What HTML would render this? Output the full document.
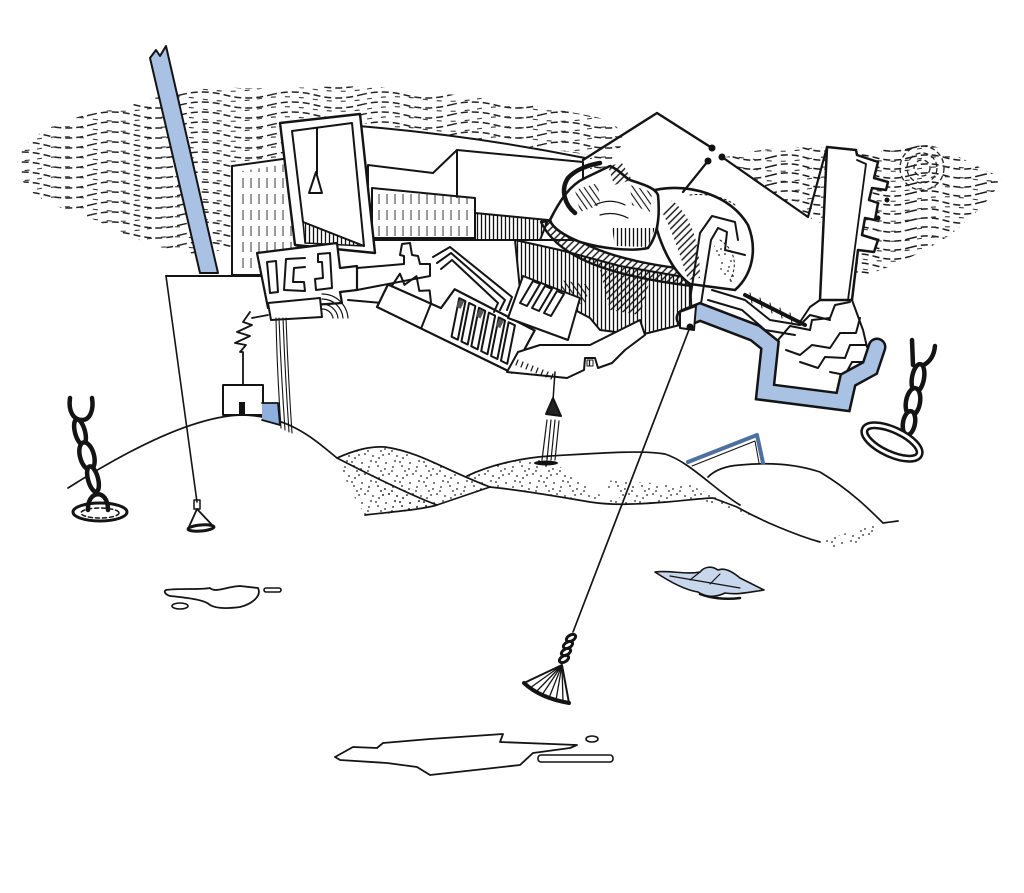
<!DOCTYPE html>
<html><head><meta charset="utf-8">
<style>html,body{margin:0;padding:0;background:#fff}svg{display:block}</style>
</head><body>
<svg width="1024" height="893" viewBox="0 0 1024 893" xmlns="http://www.w3.org/2000/svg">
<defs>
<pattern id="cloud" width="90" height="10" patternUnits="userSpaceOnUse">
 <path d="M0,5 C15,1 30,1 45,5 S75,9 90,5" fill="none" stroke="#222" stroke-width="1.5" stroke-dasharray="7 4"/>
</pattern>
<pattern id="cloudb" width="110" height="10" patternUnits="userSpaceOnUse" x="37" y="4">
 <path d="M0,5 C18,2 36,2 55,5 S92,8 110,5" fill="none" stroke="#333" stroke-width="1.1" stroke-dasharray="5 9"/>
</pattern>
<pattern id="cloud2" width="70" height="9" patternUnits="userSpaceOnUse">
 <path d="M0,4.5 C12,1 23,1 35,4.5 S58,8 70,4.5" fill="none" stroke="#1a1a1a" stroke-width="1.5" stroke-dasharray="7 4"/>
</pattern>
<pattern id="vh" width="4" height="10" patternUnits="userSpaceOnUse"><line x1="1.5" y1="0" x2="1.5" y2="10" stroke="#111" stroke-width="1.3"/></pattern>
<pattern id="vd" width="8" height="16" patternUnits="userSpaceOnUse"><line x1="3" y1="2" x2="3" y2="12" stroke="#333" stroke-width="1"/></pattern>
<pattern id="dh" width="5" height="5" patternUnits="userSpaceOnUse" patternTransform="rotate(45)"><line x1="1" y1="0" x2="1" y2="5" stroke="#111" stroke-width="1.4"/></pattern>
<pattern id="dh2" width="5" height="5" patternUnits="userSpaceOnUse" patternTransform="rotate(-35)"><line x1="1" y1="0" x2="1" y2="5" stroke="#111" stroke-width="1.1"/></pattern>
<pattern id="dots" width="24" height="20" patternUnits="userSpaceOnUse">
 <g fill="#222"><circle cx="2" cy="3" r="0.9"/><circle cx="9" cy="7" r="0.9"/><circle cx="16" cy="2" r="0.9"/><circle cx="21" cy="11" r="0.9"/><circle cx="5" cy="14" r="0.9"/><circle cx="13" cy="16" r="0.9"/><circle cx="19" cy="18" r="0.9"/><circle cx="8" cy="11" r="0.9"/><circle cx="1" cy="9" r="0.9"/><circle cx="18" cy="6" r="0.9"/><circle cx="11" cy="1" r="0.9"/><circle cx="23" cy="15" r="0.9"/></g>
</pattern>
</defs>
<rect width="1024" height="893" fill="#fff"/>

<!-- clouds -->
<path d="M18,160 C25,135 60,118 110,110 C150,100 190,85 240,88 C300,90 350,82 410,90 C470,96 540,105 600,118 C615,122 625,132 622,145 L600,175 L300,215 C260,235 230,250 200,255 C160,250 130,238 100,222 C70,210 45,205 30,190 C20,180 16,170 18,160 Z" fill="url(#cloud)"/>
<path d="M18,160 C25,135 60,118 110,110 C150,100 190,85 240,88 C300,90 350,82 410,90 C470,96 540,105 600,118 C615,122 625,132 622,145 L600,175 L300,215 C260,235 230,250 200,255 C160,250 130,238 100,222 C70,210 45,205 30,190 C20,180 16,170 18,160 Z" fill="url(#cloudb)"/>
<path d="M722,158 C750,150 790,145 827,148 L880,152 C895,142 920,140 945,150 C965,160 985,170 1002,178 C995,195 975,215 950,235 C920,255 880,272 845,282 L835,230 L808,217 Z" fill="url(#cloud2)"/>
<path d="M722,158 C750,150 790,145 827,148 L880,152 C895,142 920,140 945,150 C965,160 985,170 1002,178 C995,195 975,215 950,235 C920,255 880,272 845,282 L835,230 L808,217 Z" fill="url(#cloudb)"/>
<g fill="none" stroke="#222" stroke-width="1.3" stroke-dasharray="5 3">
<circle cx="922" cy="168" r="8"/><circle cx="922" cy="168" r="15"/><circle cx="922" cy="168" r="22"/>
</g>

<g fill="none" stroke="#141414" stroke-width="2" stroke-linejoin="round" stroke-linecap="round">

<!-- pole -->
<polygon points="150,58 156,50 160,56 166,46 218,273 200,273" fill="#a9c1e2"/>

<!-- back roof -->
<polygon points="355,122 590,155 590,250 355,250" fill="#fff" stroke="none"/>
<path d="M358,126 Q470,135 585,158"/>

<!-- left dashed building -->
<polygon points="232,166 290,158 300,275 232,275" fill="#fff"/>
<polygon points="236,172 286,164 295,270 236,270" fill="url(#vd)" stroke="none"/>

<!-- mid building -->
<polygon points="368,165 433,173 457,150 583,162 583,240 368,240" fill="#fff"/>
<path d="M457,150 L457,197"/>
<polygon points="372,188 475,198 475,238 372,238" fill="url(#vd)"/>
<polygon points="475,213 548,220 540,240 475,240" fill="url(#vh)"/>

<!-- hatched region under bull -->
<polygon points="515,240 560,250 620,266 690,278 692,322 640,335 600,330 590,318 560,302 520,290" fill="url(#vh)"/>
<polygon points="600,270 650,280 640,315 610,310" fill="url(#dh)" stroke="none"/>
<polygon points="560,280 590,285 585,305 565,300" fill="url(#dh2)" stroke="none"/>

<!-- tilted frame -->
<polygon points="280,123 360,114 375,253 295,245" fill="#fff" stroke-width="2.4"/>
<polygon points="292,131 352,123 364,246 303,222" fill="#fff"/>
<polygon points="303,222 364,246 305,243" fill="url(#vh)" stroke-width="1.5"/>
<path d="M317,128 L317,174"/>
<polygon points="316,172 309,193 322,193" fill="#fff"/>

<!-- big panel line / cord -->
<path d="M166,276 L262,276"/>
<path d="M166,276 L197,502" stroke-width="1.6"/>

<!-- maze block -->
<polygon points="257,253 337,243 340,268 357,266 357,290 340,292 342,303 268,308" fill="#fff" stroke-width="2.2"/>
<path d="M267,262 L276,261 L278,292 L270,293 Z"/>
<path d="M305,258 L286,259 L284,290 L305,291 L304,282 L293,282 L294,268 L305,267"/>
<path d="M318,254 L330,253 L332,288 L316,290 L315,279 L323,278 L322,262 L318,262 Z"/>
<polygon points="268,303 320,298 322,317 271,320" fill="#fff"/>
<g stroke-width="1.2">
<path d="M322,294 A26,26 0 0 1 348,318"/><path d="M322,299 A21,21 0 0 1 343,318"/><path d="M322,304 A16,16 0 0 1 338,318"/><path d="M322,309 A11,11 0 0 1 333,318"/>
</g>
<path d="M348,300 L382,303 L388,308"/>
<!-- connector strip with T -->
<path d="M357,268 L404,264 L404,256 L400,255 L402,244 L410,243 L412,255 L418,256 L420,264 L430,264 L430,276 L357,290"/>

<!-- comb -->
<g transform="translate(377,307) rotate(26)">
 <path d="M0,0 L150,0 L152,-48 L62,-50 L58,-27 L0,-25 Z" fill="#fff" stroke-width="2.2"/>
 <path d="M4,-25 L6,-40 L15,-32 L22,-45 L31,-33 L40,-38 L47,-27"/>
 <path d="M47,-27 L49,0"/>
 <polygon points="70,-44 77,-44 87,-6 80,-6"/>
 <polygon points="81,-44 88,-44 98,-6 91,-6"/>
 <polygon points="92,-44 99,-44 109,-6 102,-6"/>
 <polygon points="103,-44 110,-44 120,-6 113,-6"/>
 <polygon points="114,-44 121,-44 131,-6 124,-6"/>
 <polygon points="125,-44 132,-44 142,-6 135,-6"/>
 <g fill="#555" stroke="none"><rect x="71" y="-43" width="5" height="8"/><rect x="93" y="-43" width="5" height="8"/><rect x="115" y="-43" width="5" height="8"/></g>
</g>
<path d="M433,257 L450,247 L512,297 L507,310"/>
<path d="M437,263 L451,253 L505,300 L500,310"/>
<path d="M441,269 L452,260 L498,303 L494,312"/>
<!-- second slot box -->
<polygon points="523,276 580,298 568,340 508,318" fill="#fff"/>
<polygon points="533,281 540,284 527,306 520,303"/>
<polygon points="545,286 552,289 539,311 532,308"/>
<polygon points="557,291 564,294 551,316 544,313"/>
<!-- extension -->
<path d="M507,372 L518,352 L540,345 L590,345 L640,320 L645,335 L625,350 L612,363 L598,368 L595,358 L585,358 L584,370 L567,378 Z" fill="#fff"/>
<path d="M518,360 l-2,5 M523,362 l-2,5 M528,364 l-2,5 M533,366 l-2,5 M538,368 l-2,5 M543,370 l-2,5 M548,372 l-2,5 M553,374 l-2,5" stroke-width="1.2"/>
<path d="M587,360 h6 v6 h-6 z" fill="url(#vh)" stroke-width="1"/>

<!-- bull -->
<path d="M541,222 C558,258 610,276 692,286 L693,270 C620,262 574,246 555,220 Z" fill="url(#dh)" stroke-width="2.4"/>
<path d="M655,190 C690,183 730,195 748,225 C758,250 752,275 735,290 L690,284 C670,270 660,240 657,230 Z" fill="#fff" stroke-width="2.6"/>
<path d="M672,200 C690,215 700,240 700,278 L688,280 C680,255 672,230 662,212 Z" fill="url(#dh)" stroke="none"/>
<path d="M715,245 C730,250 740,262 735,282 L720,282 C722,265 718,255 712,250 Z" fill="url(#dots)" stroke="none"/>
<path d="M690,195 C705,193 725,197 735,205" stroke-width="1" stroke-dasharray="2 3"/>
<path d="M720,240 C735,250 738,265 730,280" stroke-width="1" stroke-dasharray="2 3"/>
<path d="M550,220 C560,200 570,185 585,178 L610,166 C620,170 625,178 630,180 C645,185 655,188 658,195 C660,215 658,235 648,248 C630,252 600,248 580,242 C565,236 552,228 550,220 Z" fill="#fff" stroke-width="2.6"/>
<path d="M612,228 L655,228 L648,247 L615,246 Z" fill="url(#vh)" stroke="none"/>
<path d="M575,190 L598,183 L600,205 L580,212 Z" fill="url(#dh2)" stroke="none"/>
<path d="M630,185 L652,192 L650,212 L632,205 Z" fill="url(#dh2)" stroke="none"/>
<path d="M608,166 L622,163 L632,180 L614,185 Z" fill="url(#dh)" stroke="none"/>
<path d="M575,213 C565,205 560,190 568,178 C575,170 588,165 600,163" stroke-width="4.5"/>
<path d="M595,205 C605,200 615,200 625,205 M600,215 C610,212 620,214 628,218" stroke-width="1.2"/>

<!-- Y shape -->
<path d="M583,160 L657,113 L712,148" stroke-width="2.4"/>
<path d="M708,161 L683,192 M722,157 L808,217 L827,147" stroke-width="2.2"/>
<g fill="#111" stroke="none"><circle cx="712" cy="148" r="3.5"/><circle cx="708" cy="161" r="3.5"/><circle cx="722" cy="157" r="3.5"/><circle cx="887" cy="200" r="2.5"/><circle cx="878" cy="218" r="2.5"/></g>

<!-- tower -->
<polygon points="827,147 856,150 857,155 878,162 874,178 888,182 886,190 872,188 869,200 878,203 875,220 865,218 862,235 878,240 874,252 858,250 852,300 820,300" fill="#fff" stroke-width="2.5"/>
<path d="M857,160 L866,164 L848,300" stroke-width="1.8"/>

<!-- right maze -->
<path d="M690,300 L700,233 L712,216 L735,222 L738,240"/>
<path d="M700,310 L711,240 L718,228 L727,232 L725,250 L745,255"/>
<path d="M712,290 L745,300 L770,320 L800,325 L810,315 L830,320"/>
<path d="M708,300 L742,310 L765,330 L795,335"/>
<path d="M820,300 L810,307 L800,322"/>
<path d="M778,340 L790,326 L810,330 L812,320 L830,318 L835,305 L850,302"/>
<path d="M786,350 L800,355 L812,345 L830,348 L840,333 L856,333 L860,318"/>
<path d="M800,362 L818,368 L825,357 L845,358 L850,345 L866,345"/>
<path d="M830,372 L845,375 L852,362 L870,362"/>
<path d="M852,300 L863,330 L867,347"/>
<path d="M745,295 L805,325" stroke-width="4"/>
<path d="M750,293 L752,303 M760,298 L762,308 M770,303 L772,313 M780,308 L782,318 M790,313 L792,323" stroke-width="1"/>

<!-- blue band -->
<polyline points="685,318 700,312 755,333 770,345 765,392 843,402 848,380 870,368 877,347" stroke-width="19" stroke-linejoin="miter"/>
<polyline points="685,318 700,312 755,333 770,345 765,392 843,402 848,380 870,368 877,347" stroke="#a9c1e2" stroke-width="14" stroke-linejoin="miter"/>
<polygon points="680,312 696,306 694,330 680,328" fill="#fff"/>

<!-- long cord and cone -->
<path d="M690,327 L573,632" stroke-width="1.7"/>
<circle cx="690" cy="327" r="3.5" fill="#111" stroke="none"/>
<g stroke-width="3">
<ellipse cx="571" cy="638" rx="5" ry="3" transform="rotate(-30 571 638)"/>
<ellipse cx="568" cy="645" rx="5" ry="3" transform="rotate(-30 568 645)"/>
<ellipse cx="566" cy="652" rx="5" ry="3" transform="rotate(-30 566 652)"/>
<ellipse cx="564" cy="659" rx="5" ry="3" transform="rotate(-30 564 659)"/>
</g>
<path d="M562,665 L524,683 Q540,698 569,703 Z" fill="#fff"/>
<path d="M562,665 L530,688 M562,665 L536,692 M562,665 L542,695 M562,665 L549,698 M562,665 L556,700 M562,665 L563,702" stroke-width="1.3"/>
<path d="M524,683 Q540,698 569,703" stroke-width="4"/>

<!-- hills stipple -->
<path d="M337,458 C355,450 370,446 385,447 C420,452 445,470 490,487 L437,505 C410,512 385,515 365,515 L350,490 Z" fill="url(#dots)" stroke="none"/>
<path d="M360,480 L437,505 L400,512 Z" fill="url(#dots)" stroke="none"/>
<path d="M467,476 C490,465 520,458 550,456 C560,470 580,480 600,495 L627,505 L550,495 L490,487 Z" fill="url(#dots)" stroke="none"/>
<path d="M600,480 L690,485 L737,507 L760,520 L700,500 L627,505 Z" fill="url(#dots)" stroke="none"/>
<path d="M820,542 C840,535 860,528 883,523 L870,540 L830,548 Z" fill="url(#dots)" stroke="none"/>
<!-- hill lines -->
<g stroke-width="1.7">
<path d="M68,488 C120,455 190,416 242,415 C290,416 315,440 337,458 C370,475 410,495 437,505"/>
<path d="M337,458 C355,450 370,446 385,447 C420,452 445,470 490,487"/>
<path d="M365,515 C390,512 420,510 437,505 L490,487"/>
<path d="M467,476 C490,465 520,458 550,456 C600,453 640,450 665,454 C690,462 715,490 740,505"/>
<path d="M490,487 C520,490 550,495 590,502 C610,505 627,505 667,502 C690,500 705,498 713,498 L737,507 C760,520 795,535 820,542"/>
<path d="M708,477 C715,470 725,466 740,465 C760,463 790,462 820,472 C850,490 870,510 883,523 L898,521"/>
</g>
<!-- blue frame on hill -->
<path d="M688,462 L757,435 L763,463" stroke="#4f6f9f" stroke-width="4"/>
<path d="M692,466 L755,441 L759,463" stroke="#111" stroke-width="1"/>

<!-- rain cone -->
<path d="M555,372 L553,400" stroke-width="1.5"/>
<polygon points="553,398 546,414 561,416" fill="#222"/>
<path d="M547,420 L542,460 M551,420 L547,460 M555,420 L551,460 M559,421 L555,460" stroke-width="1.2"/>
<ellipse cx="546" cy="463" rx="12" ry="2.5" fill="#111" stroke="none"/>

<!-- left cone -->
<path d="M194,500 L200,500 L200,509 L194,509 Z" stroke-width="1.5"/>
<path d="M197,509 L188,529 M197,509 L214,527" stroke-width="1.8"/>
<ellipse cx="201" cy="528" rx="13" ry="3" stroke-width="3" transform="rotate(-5 201 528)"/>

<!-- left chain -->
<g stroke-width="4.5">
<path d="M70,398 C68,412 74,420 82,420 C90,420 94,410 92,398"/>
<ellipse cx="80" cy="432" rx="5" ry="13" transform="rotate(-15 80 432)" fill="#fff"/>
<ellipse cx="87" cy="456" rx="7" ry="14" transform="rotate(-15 87 456)" fill="#fff"/>
<ellipse cx="93" cy="479" rx="5" ry="13" transform="rotate(-15 93 479)" fill="#fff"/>
<path d="M88,510 C87,490 108,488 108,510"/>
</g>
<ellipse cx="100" cy="512" rx="27" ry="9" stroke-width="3"/>
<ellipse cx="100" cy="513" rx="19" ry="5" stroke-width="1.5" stroke-dasharray="4 3"/>

<!-- right chain -->
<g stroke-width="4.5">
<path d="M912,340 L913,365 M935,346 C934,356 930,362 922,366"/>
<ellipse cx="918" cy="378" rx="6" ry="14" transform="rotate(10 918 378)" fill="#fff"/>
<ellipse cx="913" cy="402" rx="7" ry="14" transform="rotate(10 913 402)" fill="#fff"/>
<ellipse cx="909" cy="423" rx="6" ry="12" transform="rotate(10 909 423)" fill="#fff"/>
</g>
<ellipse cx="892" cy="442" rx="30" ry="12" transform="rotate(25 892 442)" stroke-width="8"/>
<ellipse cx="892" cy="442" rx="30" ry="12" transform="rotate(25 892 442)" stroke="#fff" stroke-width="3"/>

<!-- zigzag, house, bundle -->
<path d="M268,315 L252,318 M250,312 L243,322 L252,325 L237,332 L250,336 L235,343 L246,345 L240,352 L243,352 L243,385" stroke-width="1.8"/>
<rect x="223" y="385" width="40" height="30" fill="#fff"/>
<rect x="239" y="402" width="6" height="12" fill="#111" stroke="none"/>
<path d="M262,403 L278,403 L280,425 L262,420" fill="#8fb0de" stroke-width="1.8"/>
<g stroke-width="1.1">
<path d="M276,318 Q277,370 281,428"/><path d="M279,318 Q281,372 285,430"/><path d="M283,318 Q285,373 289,432"/><path d="M286,318 Q288,374 292,433"/>
</g>

<!-- leaf -->
<path d="M655,572 C670,570 685,575 700,572 C705,566 712,566 718,570 C725,567 733,572 740,578 C748,582 756,586 764,590 C750,592 738,595 725,593 C715,598 705,597 698,592 C685,590 670,582 655,572 Z" fill="#c8d7eb" stroke-width="1.6"/>
<path d="M670,576 L740,588 M690,580 L700,572 M710,584 L720,574" stroke-width="1.2"/>
<path d="M700,594 C710,598 725,600 740,598" stroke-width="2.5"/>

<!-- puddles -->
<path d="M166,590 C180,588 200,590 210,588 C215,593 225,587 240,586 L258,588 C262,596 252,604 240,607 C225,609 215,608 210,605 C205,600 190,598 170,596 C164,594 164,591 166,590 Z" stroke-width="1.8"/>
<ellipse cx="180" cy="606" rx="8" ry="3" stroke-width="1.6"/>
<rect x="264" y="588" width="17" height="4" rx="2" stroke-width="1.6"/>
<path d="M335,757 L353,747 L377,748 L383,743 L430,739 L503,734 L500,742 L577,745 L570,748 L533,753 L520,765 L430,775 L417,767 L387,763 L340,760 Z" stroke-width="1.8"/>
<ellipse cx="592" cy="739" rx="6" ry="3" stroke-width="1.6"/>
<rect x="538" y="755" width="75" height="7" rx="3" stroke-width="1.6"/>
</g>
</svg>
</body></html>
